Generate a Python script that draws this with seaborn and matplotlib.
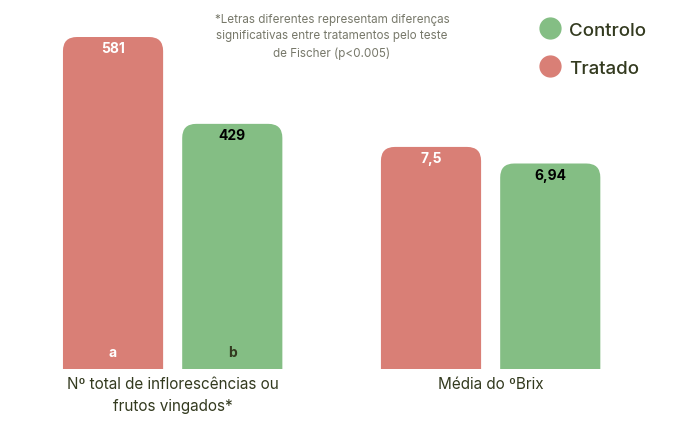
import matplotlib
matplotlib.use("Agg")
import matplotlib.pyplot as plt
import seaborn as sns
import pandas as pd
from matplotlib.patches import FancyBboxPatch
from matplotlib.lines import Line2D

# dados
grupos = ["Nº total de inflorescências ou\nfrutos vingados*", "Média do ºBrix"]
tratamentos = ["Tratado", "Controlo"]
tratado = [581, 7.5]
controlo = [429, 6.94]
rotulos_tratado = ["581", "7,5"]
rotulos_controlo = ["429", "6,94"]
letras_tratado = ["a", ""]
letras_controlo = ["b", ""]

cores = {"Tratado": "#D97F76", "Controlo": "#84BE84"}
texto_escuro = "#333A1F"

df = pd.DataFrame({
    "grupo": grupos * 2,
    "tratamento": ["Tratado"] * 2 + ["Controlo"] * 2,
    "valor": tratado + controlo,
})

sns.set_style("white")
plt.rcParams["font.family"] = ["Inter", "DejaVu Sans"]

fig = plt.figure(figsize=(6.9, 4.31), dpi=100)
ax = fig.add_axes([0, 0.1415, 1, 0.8121])
ax2 = ax.twinx()

ylims = [612.5, 11.82]
eixos = [ax, ax2]
for i, a in enumerate(eixos):
    sub = df[df["grupo"] == grupos[i]]
    sns.barplot(data=sub, x="grupo", y="valor", hue="tratamento",
                order=grupos, hue_order=tratamentos, palette=cores,
                saturation=1, width=0.75, gap=0.16, ax=a, legend=False)
    a.set_ylim(0, ylims[i])
    a.set_xlim(-0.543, 1.627)

for a in eixos:
    for s in a.spines.values():
        s.set_visible(False)
    a.set_yticks([])
    a.set_ylabel("")
    a.set_xlabel("")
ax2.tick_params(axis="x", length=0)
ax.set_xticks([0, 1])
ax.set_xticklabels(grupos, fontsize=11, color=texto_escuro, linespacing=1.55)
ax.tick_params(axis="x", length=0, pad=5)

# cantos arredondados no topo
fig.canvas.draw()
raio_px = 14
for a in eixos:
    bb = a.get_window_extent()
    x0, x1 = a.get_xlim()
    y0, y1 = a.get_ylim()
    xpp = (x1 - x0) / bb.width
    ypp = (y1 - y0) / bb.height
    r = raio_px * xpp
    aspecto = ypp / xpp
    for p in list(a.patches):
        if p.get_height() <= 0:
            continue
        x, w, h = p.get_x(), p.get_width(), p.get_height()
        cor = p.get_facecolor()
        p.remove()
        extra = 2 * raio_px * ypp
        nova = FancyBboxPatch((x, -extra), w, h + extra,
                              boxstyle=f"round,pad=0,rounding_size={r}",
                              mutation_aspect=aspecto, facecolor=cor,
                              edgecolor="none", clip_on=True)
        a.add_patch(nova)

# rótulos
desloc = 0.1875
for i, a in enumerate(eixos):
    ypp = ylims[i] / (0.8121 * 431)
    a.text(i - desloc, tratado[i] - 11 * ypp, rotulos_tratado[i], ha="center", va="center",
           fontsize=10, fontweight="bold", color="white")
    a.text(i + desloc, controlo[i] - 11 * ypp, rotulos_controlo[i], ha="center", va="center",
           fontsize=10, fontweight="bold", color="black")
    a.text(i - desloc, 17 * ypp, letras_tratado[i], ha="center", va="center",
           fontsize=10, fontweight="bold", color="white")
    a.text(i + desloc, 17 * ypp, letras_controlo[i], ha="center", va="center",
           fontsize=10, fontweight="bold", color=texto_escuro)

fig.text(332 / 690, 1 - 14 / 431,
         "*Letras diferentes representam diferenças\nsignificativas entre tratamentos pelo teste\nde Fischer (p<0.005)",
         ha="center", va="top", fontsize=8.4, color="#77786A", linespacing=1.5)

handles = [Line2D([], [], marker="o", ls="", markersize=15, color=cores[t]) for t in ["Controlo", "Tratado"]]
leg = fig.legend(handles, ["Controlo", "Tratado"], loc="upper left",
                 bbox_to_anchor=(522 / 690, 1 - 6 / 431), frameon=False,
                 fontsize=13.5, labelspacing=1.1, handletextpad=0.4, handlelength=1.2)
for t in leg.get_texts():
    t.set_color(texto_escuro)
    t.set_fontweight("medium")

fig.savefig("out.png", dpi=100)
